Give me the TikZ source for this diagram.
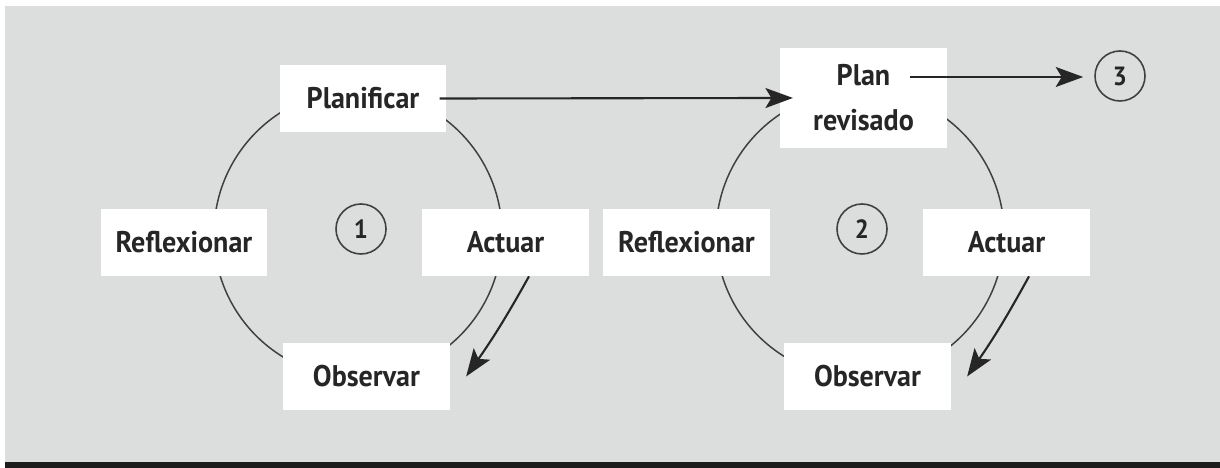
\documentclass[tikz,border=0pt]{standalone}
\usepackage{fontspec}
\setmainfont{PT Sans}[FakeStretch=0.94]
\usepackage{tikz}
\usetikzlibrary{arrows.meta, calc}
\definecolor{paper}{HTML}{DCDEDD}
\definecolor{ink}{HTML}{262626}
\definecolor{rule}{HTML}{404040}
\definecolor{bar}{HTML}{1C1C1C}

\tikzset{
  stagebox/.style={fill=white, draw=none, inner sep=0pt, minimum width=3.33cm, minimum height=1.34cm,
    text=ink, font=\fontsize{17}{25.6}\selectfont\bfseries, align=center},
  num/.style={circle, draw=rule, line width=0.9pt, minimum size=1.0cm, inner sep=0pt,
    text=ink, font=\fontsize{15}{17}\selectfont\bfseries},
  loopline/.style={draw=rule, line width=0.85pt},
  arr/.style={draw=ink, line width=1.2pt, -{Stealth[length=0.55cm, width=0.4cm, inset=0.12cm]}}
}

\begin{document}
\begin{tikzpicture}
  \useasboundingbox (0,0) rectangle (24.4,9.36);
  % Frame
  \fill[white] (0,0) rectangle (24.4,9.36);
  \fill[paper] (0.1,0.12) rectangle (24.4,9.24);
  \fill[bar] (0.1,0) rectangle (24.4,0.12);

  % Cycle 1
  \draw[loopline] (7.16,4.68) circle (2.88);
  \node[stagebox] (plan1) at (7.26,7.39) {Planificar};
  \node[stagebox] (refl1) at (3.68,4.51) {Reflexionar};
  \node[stagebox] (act1) at (10.11,4.51) {Actuar};
  \node[stagebox] (obs1) at (7.33,1.83) {Observar};
  \node[num] (n1) at (7.22,4.78) {1};

  % Cycle 2
  \draw[loopline] (17.2,4.68) circle (2.88);
  \node[stagebox, minimum height=2cm] (plan2) at (17.27,7.40) {Plan\\revisado};
  \node[stagebox] (refl2) at (13.73,4.51) {Reflexionar};
  \node[stagebox] (act2) at (20.13,4.51) {Actuar};
  \node[stagebox] (obs2) at (17.35,1.83) {Observar};
  \node[num] (n2) at (17.24,4.78) {2};
  \node[num] (n3) at (22.4,7.84) {3};

  % Arrows
  \draw[arr, shorten <=-0.14cm, shorten >=-0.26cm] (plan1.east) -- (plan2.west);
  \coordinate (planout) at (18.2,7.82);
  \draw[arr, shorten >=0.22cm] (planout) -- (n3.west |- planout);
  \draw[arr] ([xshift=0.47cm]act1.south) to[bend left=3] ([xshift=0.32cm]obs1.east);
  \draw[arr] ([xshift=0.45cm]act2.south) to[bend left=3] ([xshift=0.32cm]obs2.east);
\end{tikzpicture}
\end{document}
